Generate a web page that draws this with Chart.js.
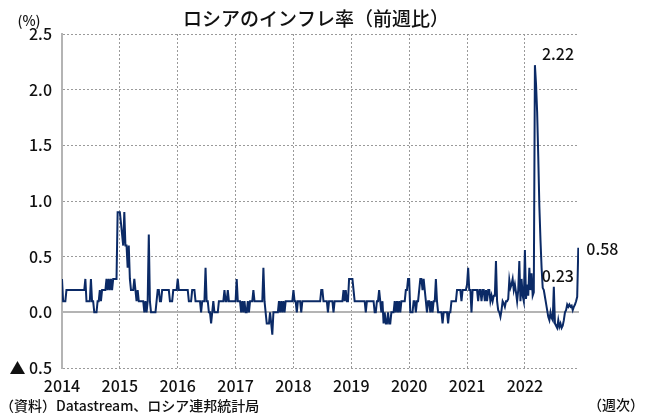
<!DOCTYPE html>
<html>
<head>
<meta charset="utf-8">
<script src="https://cdn.jsdelivr.net/npm/chart.js@4"></script>
<style>
  html, body { margin: 0; padding: 0; background: #fff; }
  #wrap { width: 649px; height: 416px; position: relative; }
</style>
</head>
<body>
<div id="wrap"><canvas id="myChart" width="649" height="416"></canvas></div>
<script>
// weekly CPI change (%), one array per year
var years = [2014, 2015, 2016, 2017, 2018, 2019, 2020, 2021, 2022];

var w2014 = [0.3, 0.1, 0.1, 0.1, 0.2, 0.2, 0.2, 0.2, 0.2, 0.2, 0.2, 0.2, 0.2, 0.2, 0.2, 0.2, 0.2, 0.2, 0.2, 0.2,
  0.2, 0.3, 0.1, 0.1, 0.1, 0.1, 0.3, 0.1, 0.1, 0.0, 0.0, 0.0, 0.1, 0.1, 0.2, 0.1, 0.2, 0.2, 0.2, 0.2,
  0.3, 0.2, 0.3, 0.2, 0.3, 0.2, 0.3, 0.3, 0.3, 0.3, 0.9, 0.9];
var w2015 = [0.9, 0.8, 0.7, 0.6, 0.9, 0.6, 0.6, 0.4, 0.6, 0.3, 0.2, 0.2, 0.2, 0.3, 0.2, 0.1, 0.2, 0.1, 0.1, 0.1,
  0.1, 0.1, 0.0, 0.1, 0.0, 0.1, 0.7, 0.1, 0.0, 0.0, 0.0, 0.0, 0.0, 0.1, 0.2, 0.2, 0.1, 0.1, 0.2, 0.2,
  0.2, 0.2, 0.2, 0.2, 0.2, 0.1, 0.1, 0.1, 0.2, 0.2, 0.2, 0.2];
var w2016 = [0.3, 0.2, 0.2, 0.2, 0.2, 0.2, 0.2, 0.2, 0.2, 0.2, 0.1, 0.1, 0.1, 0.2, 0.2, 0.2, 0.1, 0.1, 0.1, 0.1,
  0.1, 0.0, 0.1, 0.1, 0.1, 0.4, 0.1, 0.1, 0.0, 0.0, -0.1, 0.0, 0.1, 0.0, 0.0, 0.0, 0.0, 0.1, 0.1, 0.1,
  0.1, 0.1, 0.2, 0.1, 0.1, 0.2, 0.1, 0.1, 0.1, 0.1, 0.1, 0.1];
var w2017 = [0.1, 0.3, 0.1, 0.1, 0.1, 0.0, 0.1, 0.0, 0.1, 0.0, 0.0, 0.1, 0.0, 0.1, 0.1, 0.1, 0.2, 0.1, 0.1, 0.1,
  0.1, 0.1, 0.1, 0.1, 0.1, 0.4, 0.1, 0.0, -0.1, -0.1, -0.1, 0.0, -0.1, -0.2, 0.0, 0.0, 0.0, 0.0, 0.0, 0.1,
  0.0, 0.1, 0.0, 0.1, 0.0, 0.1, 0.1, 0.1, 0.1, 0.1, 0.1, 0.1];
var w2018 = [0.2, 0.1, 0.1, 0.0, 0.1, 0.1, 0.1, 0.0, 0.1, 0.1, 0.1, 0.1, 0.1, 0.1, 0.1, 0.1, 0.1, 0.1, 0.1, 0.1,
  0.1, 0.1, 0.1, 0.1, 0.1, 0.2, 0.2, 0.1, 0.1, 0.1, 0.1, 0.0, 0.1, 0.1, 0.1, 0.1, 0.0, 0.1, 0.1, 0.1,
  0.1, 0.1, 0.1, 0.1, 0.1, 0.2, 0.1, 0.2, 0.1, 0.1, 0.3, 0.3];
var w2019 = [0.3, 0.3, 0.2, 0.1, 0.1, 0.1, 0.1, 0.1, 0.1, 0.1, 0.1, 0.1, 0.1, 0.0, 0.1, 0.1, 0.1, 0.1, 0.1, 0.1,
  0.1, 0.0, 0.0, 0.1, 0.1, 0.2, 0.1, 0.0, 0.1, -0.1, 0.0, -0.1, -0.1, 0.0, -0.1, -0.1, 0.0, 0.0, 0.0, 0.1,
  0.0, 0.1, 0.0, 0.1, 0.0, 0.1, 0.1, 0.1, 0.1, 0.2, 0.2, 0.3];
var w2020 = [0.3, 0.0, 0.0, 0.0, 0.1, 0.1, 0.0, 0.1, 0.1, 0.2, 0.3, 0.3, 0.2, 0.3, 0.2, 0.1, 0.0, 0.1, 0.1, 0.0,
  0.1, 0.0, 0.1, 0.1, 0.3, 0.1, 0.0, 0.0, 0.0, 0.0, -0.1, 0.0, 0.0, 0.0, 0.0, -0.1, 0.0, 0.0, 0.1, 0.1,
  0.1, 0.1, 0.1, 0.2, 0.2, 0.2, 0.2, 0.1, 0.2, 0.2, 0.2, 0.2];
var w2021 = [0.25, 0.4, 0.2, 0.2, 0.0, 0.2, 0.2, 0.2, 0.2, 0.2, 0.1, 0.2, 0.2, 0.1, 0.2, 0.2, 0.1, 0.2, 0.1, 0.2,
  0.2, 0.1, 0.15, 0.1, 0.15, 0.15, 0.46, 0.1, 0.02, 0.0, -0.04, 0.02, 0.1, 0.08, 0.05, 0.1, 0.1, 0.12, 0.29, 0.22,
  0.25, 0.3, 0.2, 0.25, 0.18, 0.1, 0.2, 0.46, 0.1, 0.3, 0.15, 0.1];
var w2022 = [0.56, 0.12, 0.25, 0.15, 0.4, 0.2, 0.35, 0.15, 0.18, 2.22, 2.05, 1.8, 1.4, 0.95, 0.65, 0.4, 0.22, 0.2, 0.14, 0.08,
  0.02, -0.04, -0.07, 0.0, -0.05, -0.07, 0.23, -0.1, -0.12, -0.14, -0.07, -0.13, -0.1, -0.14, -0.12, -0.07, 0.0, 0.02, 0.07, 0.05,
  0.07, 0.05, 0.06, 0.02, 0.05, 0.07, 0.1, 0.14, 0.58];

var yTicks = [-0.5, 0, 0.5, 1.0, 1.5, 2.0, 2.5];
var calloutValues = [2.22, 0.23, 0.58];

var weekly = [w2014, w2015, w2016, w2017, w2018, w2019, w2020, w2021, w2022];
var points = [];
years.forEach(function (yr, k) {
  weekly[k].forEach(function (v, i) {
    points.push({ x: yr + i / 52, y: v });
  });
});

var FONT = '"Noto Sans CJK JP", "Noto Sans", sans-serif';

// title, unit, source and the value callouts
var textPlugin = {
  id: 'texts',
  afterDraw: function (chart) {
    var c = chart.ctx;
    var xs = chart.scales.x, ys = chart.scales.y;
    c.save();
    c.fillStyle = '#111';
    c.textBaseline = 'middle';
    c.font = '500 19px ' + FONT;
    c.textAlign = 'center';
    c.fillText('ロシアのインフレ率（前週比）', 316, 19);
    c.font = '500 14px ' + FONT;
    c.fillText('(%)', 29, 21);
    c.textAlign = 'left';
    c.fillText('（資料）Datastream、ロシア連邦統計局', 0, 406);
    c.fillText('（週次）', 588, 405);

    // callouts next to the marked points
    c.font = '500 16px ' + FONT;
    var offs = [[7, -11], [-12, -11], [8, 1]];
    calloutValues.forEach(function (val, n) {
      var p = null;
      for (var i = points.length - 1; i >= 0; i--) {
        if (points[i].y === val) { p = points[i]; break; }
      }
      if (!p) return;
      var px = xs.getPixelForValue(p.x), py = ys.getPixelForValue(p.y);
      c.fillText(val.toFixed(2), px + offs[n][0], py + offs[n][1]);
    });
    c.restore();
  }
};

var ctx = document.getElementById('myChart');
var myChart = new Chart(ctx, {
  type: 'line',
  data: {
    datasets: [{
      label: 'CPI w/w',
      data: points,
      borderColor: '#0b2a66',
      borderWidth: 2,
      pointRadius: 0,
      tension: 0,
      fill: false
    }]
  },
  options: {
    responsive: false,
    animation: false,
    layout: { padding: { top: 34, right: 70, left: 0, bottom: 0 } },
    plugins: {
      legend: { display: false },
      tooltip: { enabled: false }
    },
    scales: {
      x: {
        type: 'linear',
        min: 2014,
        max: 2022.935,
        afterFit: function (s) { s.height = 48; },
        afterBuildTicks: function (s) {
          s.ticks = years.map(function (y) { return { value: y }; });
        },
        ticks: {
          color: '#111',
          padding: 8,
          font: { family: FONT, size: 16, weight: '500' },
          callback: function (v) { return String(v); }
        },
        grid: {
          color: '#9a9a9a',
          lineWidth: 1,
          drawTicks: false
        },
        border: { display: false, dash: [2, 2] }
      },
      y: {
        min: -0.5,
        max: 2.5,
        afterFit: function (s) { s.width = 62; },
        afterBuildTicks: function (s) {
          s.ticks = yTicks.map(function (v) { return { value: v }; });
        },
        ticks: {
          color: '#111',
          padding: 10,
          font: { family: FONT, size: 16, weight: '500' },
          callback: function (v) {
            return v < 0 ? '▲ ' + Math.abs(v).toFixed(1) : v.toFixed(1);
          }
        },
        grid: {
          color: function (c) { return c.tick && c.tick.value === 0 ? '#b4b4b4' : '#9a9a9a'; },
          lineWidth: function (c) { return c.tick && c.tick.value === 0 ? 2 : 1; },
          drawTicks: false
        },
        border: {
          display: true,
          color: '#b4b4b4',
          width: 2,
          dash: function (c) { return c.tick && c.tick.value === 0 ? [] : [2, 2]; }
        }
      }
    }
  },
  plugins: [textPlugin]
});
</script>
</body>
</html>
